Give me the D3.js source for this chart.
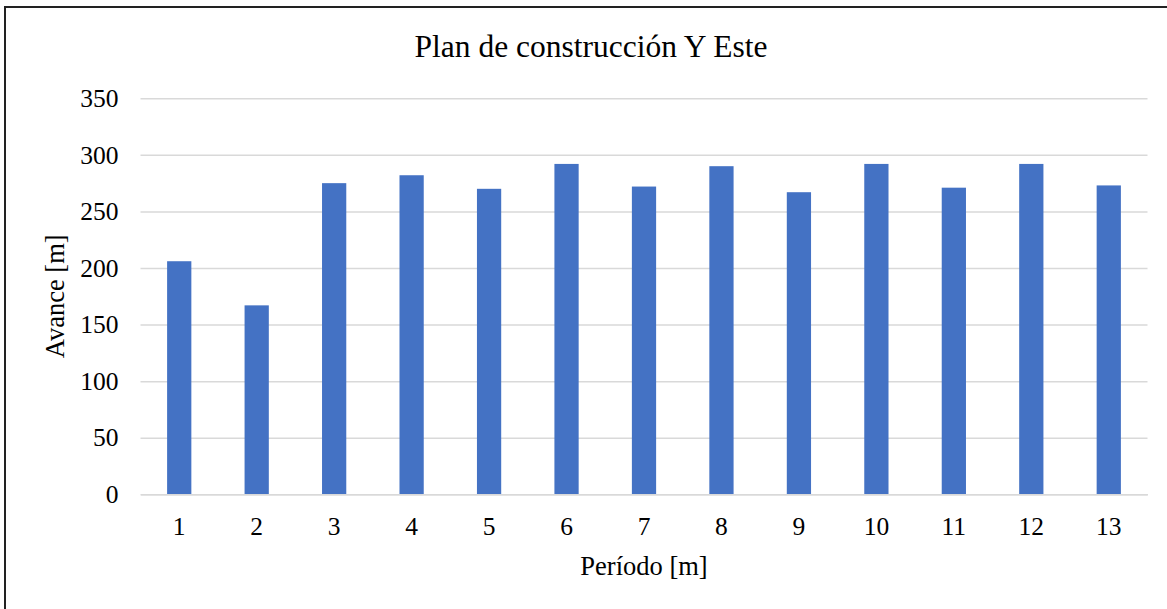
<!DOCTYPE html>
<html>
<head>
<meta charset="utf-8">
<script src="https://cdn.jsdelivr.net/npm/d3@7"></script>
<style>
  html, body { margin: 0; padding: 0; background: #fff; }
  svg { display: block; }
  text { font-family: "Liberation Serif", "Times New Roman", serif; fill: #000; }
</style>
</head>
<body>
<svg id="chart" width="1167" height="609"></svg>
<script>
// Monthly advance per period
const periods = ["1","2","3","4","5","6","7","8","9","10","11","12","13"];
const avance = [206, 167, 275, 282, 270, 292, 272, 290, 267, 292, 271, 292, 273];
const yTicks = [0, 50, 100, 150, 200, 250, 300, 350];

const chartTitle = "Plan de construcción Y Este";
const xTitle = "Período [m]";
const yTitle = "Avance [m]";

const W = 1167, H = 609;
const plot = { left: 140.5, right: 1147.5, top: 98.3, bottom: 494.3 };

const svg = d3.select("#chart");

// outer frame
svg.append("rect")
  .attr("x", 5).attr("y", 7)
  .attr("width", W + 10).attr("height", H + 10)
  .attr("fill", "#fff")
  .attr("stroke", "#222").attr("stroke-width", 2);

const x = d3.scaleBand()
  .domain(periods)
  .range([plot.left, plot.right])
  .paddingInner(0.687)
  .paddingOuter(0.3435);

const y = d3.scaleLinear()
  .domain([0, 350])
  .range([plot.bottom, plot.top]);

// horizontal gridlines
const yAxis = d3.axisLeft(y)
  .tickValues(yTicks)
  .tickSize(-(plot.right - plot.left))
  .tickPadding(22)
  .tickFormat(d3.format("d"));

const gy = svg.append("g")
  .attr("transform", `translate(${plot.left},0)`)
  .call(yAxis);
gy.select(".domain").remove();
gy.selectAll(".tick line").attr("stroke", "#d9d9d9").attr("stroke-width", 1.5);
gy.selectAll(".tick text")
  .attr("font-size", 25.5)
  .attr("font-family", "Liberation Serif, serif")
  .attr("fill", "#000");

// bars
svg.append("g").selectAll("rect")
  .data(periods.map((p, i) => ({ p, v: avance[i] })))
  .join("rect")
  .attr("x", d => x(d.p))
  .attr("width", x.bandwidth())
  .attr("y", d => y(d.v))
  .attr("height", d => y(0) - y(d.v))
  .attr("fill", "#4472c4");

// category axis
const xAxis = d3.axisBottom(x).tickSize(0).tickPadding(23);
const gx = svg.append("g")
  .attr("transform", `translate(0,${plot.bottom})`)
  .call(xAxis);
gx.select(".domain").attr("stroke", "#d9d9d9").attr("stroke-width", 1.5);
gx.selectAll(".tick text")
  .attr("font-size", 25.5)
  .attr("font-family", "Liberation Serif, serif")
  .attr("fill", "#000");

// titles
svg.append("text")
  .attr("x", 591).attr("y", 57)
  .attr("text-anchor", "middle")
  .attr("font-size", 31.5)
  .text(chartTitle);

svg.append("text")
  .attr("x", (plot.left + plot.right) / 2).attr("y", 575)
  .attr("text-anchor", "middle")
  .attr("font-size", 26.5)
  .text(xTitle);

svg.append("text")
  .attr("transform", `translate(64,${(plot.top + plot.bottom) / 2}) rotate(-90)`)
  .attr("text-anchor", "middle")
  .attr("font-size", 26.5)
  .text(yTitle);
</script>
</body>
</html>
